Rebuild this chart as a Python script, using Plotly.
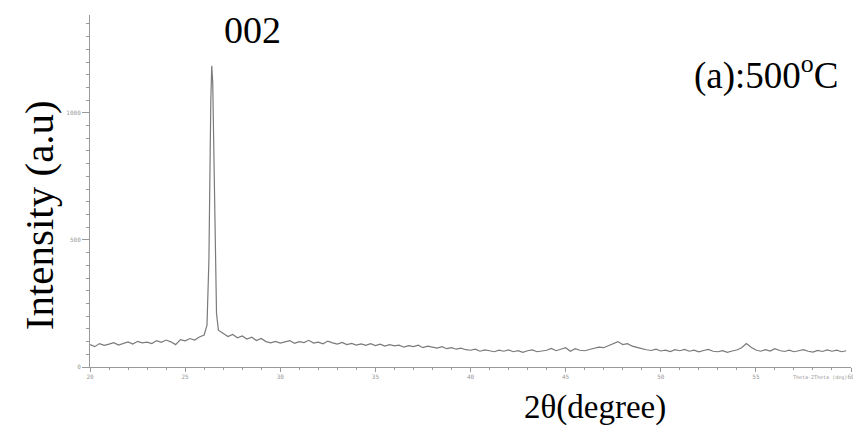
import plotly.graph_objects as go

two_theta = [
    20.00, 20.25, 20.50, 20.75, 21.00, 21.25, 21.50, 21.75, 22.00, 22.25,
    22.50, 22.75, 23.00, 23.25, 23.50, 23.75, 24.00, 24.25, 24.50, 24.75,
    25.00, 25.25, 25.50, 25.75, 26.00, 26.15, 26.25, 26.35, 26.40, 26.45,
    26.55, 26.65, 26.75, 27.00, 27.25, 27.50, 27.75, 28.00, 28.25, 28.50,
    28.75, 29.00, 29.25, 29.50, 29.75, 30.00, 30.25, 30.50, 30.75, 31.00,
    31.25, 31.50, 31.75, 32.00, 32.25, 32.50, 32.75, 33.00, 33.25, 33.50,
    33.75, 34.00, 34.25, 34.50, 34.75, 35.00, 35.25, 35.50, 35.75, 36.00,
    36.25, 36.50, 36.75, 37.00, 37.25, 37.50, 37.75, 38.00, 38.25, 38.50,
    38.75, 39.00, 39.25, 39.50, 39.75, 40.00, 40.25, 40.50, 40.75, 41.00,
    41.25, 41.50, 41.75, 42.00, 42.25, 42.50, 42.75, 43.00, 43.25, 43.50,
    43.75, 44.00, 44.25, 44.50, 44.75, 45.00, 45.25, 45.50, 45.75, 46.00,
    46.25, 46.50, 46.75, 47.00, 47.25, 47.50, 47.75, 48.00, 48.25, 48.50,
    48.75, 49.00, 49.25, 49.50, 49.75, 50.00, 50.25, 50.50, 50.75, 51.00,
    51.25, 51.50, 51.75, 52.00, 52.25, 52.50, 52.75, 53.00, 53.25, 53.50,
    53.75, 54.00, 54.25, 54.50, 54.75, 55.00, 55.25, 55.50, 55.75, 56.00,
    56.25, 56.50, 56.75, 57.00, 57.25, 57.50, 57.75, 58.00, 58.25, 58.50,
    58.75, 59.00, 59.25, 59.50, 59.75,
]

intensity = [
    88, 80, 92, 85, 90, 96, 86, 94, 99, 90,
    101, 95, 98, 92, 104, 97, 106, 99, 88, 108,
    103, 112, 106, 118, 126, 165, 420, 1050, 1185, 1120,
    560, 210, 145, 132, 120, 128, 115, 122, 110, 117,
    104, 112, 100, 95, 101, 94, 100, 104, 93, 100,
    96, 105, 94, 98, 91, 102, 95, 90, 97, 88,
    93, 86, 91, 85, 92, 84, 90, 82, 88, 83,
    86, 78, 84, 80, 86, 76, 82, 78, 74, 80,
    72, 76, 70, 74, 68, 66, 70, 62, 67, 64,
    60, 66, 62, 67, 60, 64, 58, 64, 67, 60,
    63, 66, 73, 64, 70, 76, 62, 72, 66, 64,
    69, 74, 78, 76, 84, 92, 100, 88, 92, 82,
    76, 72, 68, 65, 70, 63, 66, 61, 68, 64,
    69, 62, 66, 60, 65, 69, 62, 60, 64, 58,
    63, 67, 76, 92, 78, 67, 62, 68, 63, 72,
    65, 61, 66, 60, 64, 68, 62, 59, 65, 61,
    67, 62, 66, 60, 64,
]

x_tick_vals = [20, 25, 30, 35, 40, 45, 50, 55, 60]
y_tick_vals = [0, 500, 1000]

fig = go.Figure()
fig.add_trace(go.Scatter(
    x=two_theta, y=intensity, mode="lines",
    line=dict(color="#7a7a7a", width=1.2),
    hoverinfo="skip", showlegend=False,
))

axis_col = "#9a9a9a"
tick_font = dict(size=6, color="#999999", family="DejaVu Sans Mono")
serif = "Liberation Serif"

fig.update_layout(
    width=853, height=422,
    margin=dict(l=82, r=6, t=7, b=63),
    paper_bgcolor="white", plot_bgcolor="white",
    xaxis=dict(
        range=[20, 60], showgrid=False, zeroline=False,
        showline=True, linecolor=axis_col, linewidth=1,
        tickmode="array", tickvals=x_tick_vals,
        ticks="outside", ticklen=4, tickcolor=axis_col,
        tickfont=tick_font,
        minor=dict(dtick=1, ticks="outside", ticklen=2, tickcolor=axis_col),
    ),
    yaxis=dict(
        range=[0, 1385], showgrid=False, zeroline=False,
        showline=True, linecolor=axis_col, linewidth=1,
        tickmode="array", tickvals=y_tick_vals,
        ticks="outside", ticklen=7, tickcolor=axis_col,
        tickfont=tick_font,
        minor=dict(dtick=50, ticks="outside", ticklen=3, tickcolor=axis_col),
    ),
    font=dict(family=serif, color="black"),
    annotations=[
        dict(text="002", x=0.2135, y=0.958, xref="paper", yref="paper",
             xanchor="center", yanchor="middle", showarrow=False, borderpad=0,
             font=dict(size=38, family=serif, color="black")),
        dict(text="(a):500<sup>o</sup>C", x=0.8885, y=0.836, xref="paper", yref="paper",
             xanchor="center", yanchor="middle", showarrow=False,
             font=dict(size=37, family=serif, color="black")),
        dict(text="Intensity (a.u)", x=-0.0667, y=0.4318, xref="paper", yref="paper",
             xanchor="center", yanchor="middle", showarrow=False, textangle=-90,
             font=dict(size=41, family=serif, color="black")),
        dict(text="2θ(degree)", x=0.663, y=-0.116, xref="paper", yref="paper",
             xanchor="center", yanchor="middle", showarrow=False,
             font=dict(size=33, family=serif, color="black")),
        dict(text="Theta-2Theta (deg)", x=0.997, y=-0.031, xref="paper", yref="paper",
             xanchor="right", yanchor="middle", showarrow=False,
             font=dict(size=5, family="DejaVu Sans Mono", color="#999999")),
    ],
)

fig.write_html("out.html")
